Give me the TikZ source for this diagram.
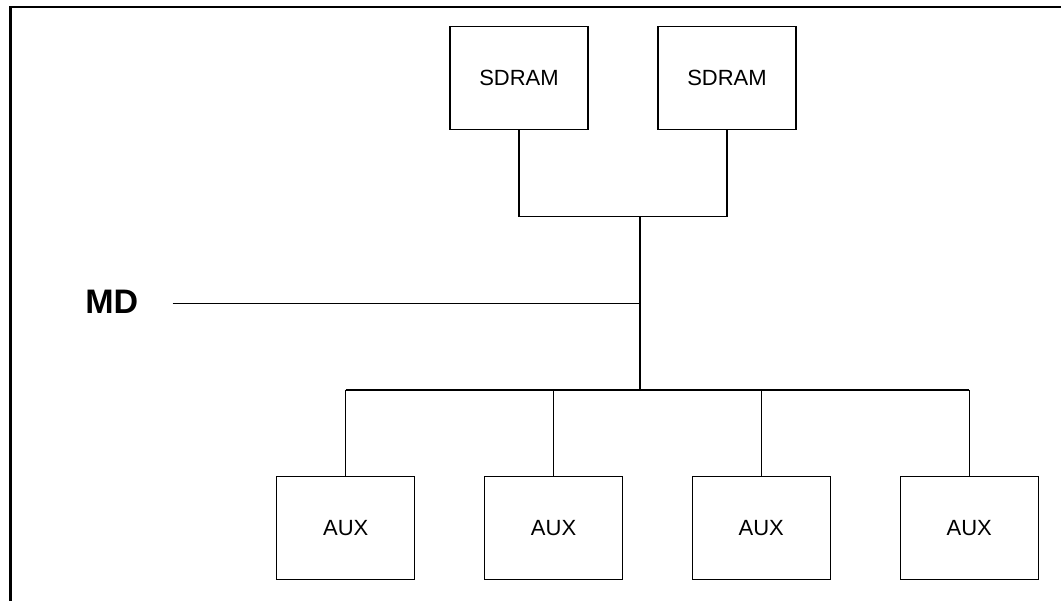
\documentclass[tikz,border=0pt]{standalone}
\usepackage{fontspec}
\setmainfont{Liberation Sans}
\begin{document}
\begin{tikzpicture}[x=1pt,y=1pt,
  blk/.style={draw, line width=1.2pt, minimum width=138pt, minimum height=103pt, inner sep=0pt, font=\fontsize{22}{26}\selectfont},
  bus/.style={line width=1.1pt},
  frame/.style={line width=2.4pt}]
\useasboundingbox (0,0) rectangle (1061,-601);
\draw[frame] (1061,-7) -- (10.5,-7) -- (10.5,-601);
\node[blk] (sd1) at (519,-78.3) {SDRAM};
\node[blk] (sd2) at (727,-78.3) {SDRAM};
\node[blk] (a1) at (345.7,-528) {AUX};
\node[blk] (a2) at (553.6,-528) {AUX};
\node[blk] (a3) at (761.3,-528) {AUX};
\node[blk] (a4) at (969.2,-528) {AUX};
\node[font=\fontsize{34}{40}\selectfont\bfseries] (md) at (111.7,-301.7) {MD};
\coordinate (j1) at (640,-216.7);
\coordinate (j2) at (640,-390);
\coordinate (jm) at (640,-303.3);
\coordinate (ms) at (172.7,-303.3);
\draw[bus] (sd1.south) -- (sd1.south |- j1) -- (sd2.south |- j1) -- (sd2.south);
\draw[bus] (j1) -- (j2);
\draw[bus] (ms) -- (jm);
\draw[bus] (a1.north |- j2) -- (a4.north |- j2);
\foreach \n in {a1,a2,a3,a4} \draw[bus] (\n.north) -- (\n.north |- j2);
\end{tikzpicture}
\end{document}
